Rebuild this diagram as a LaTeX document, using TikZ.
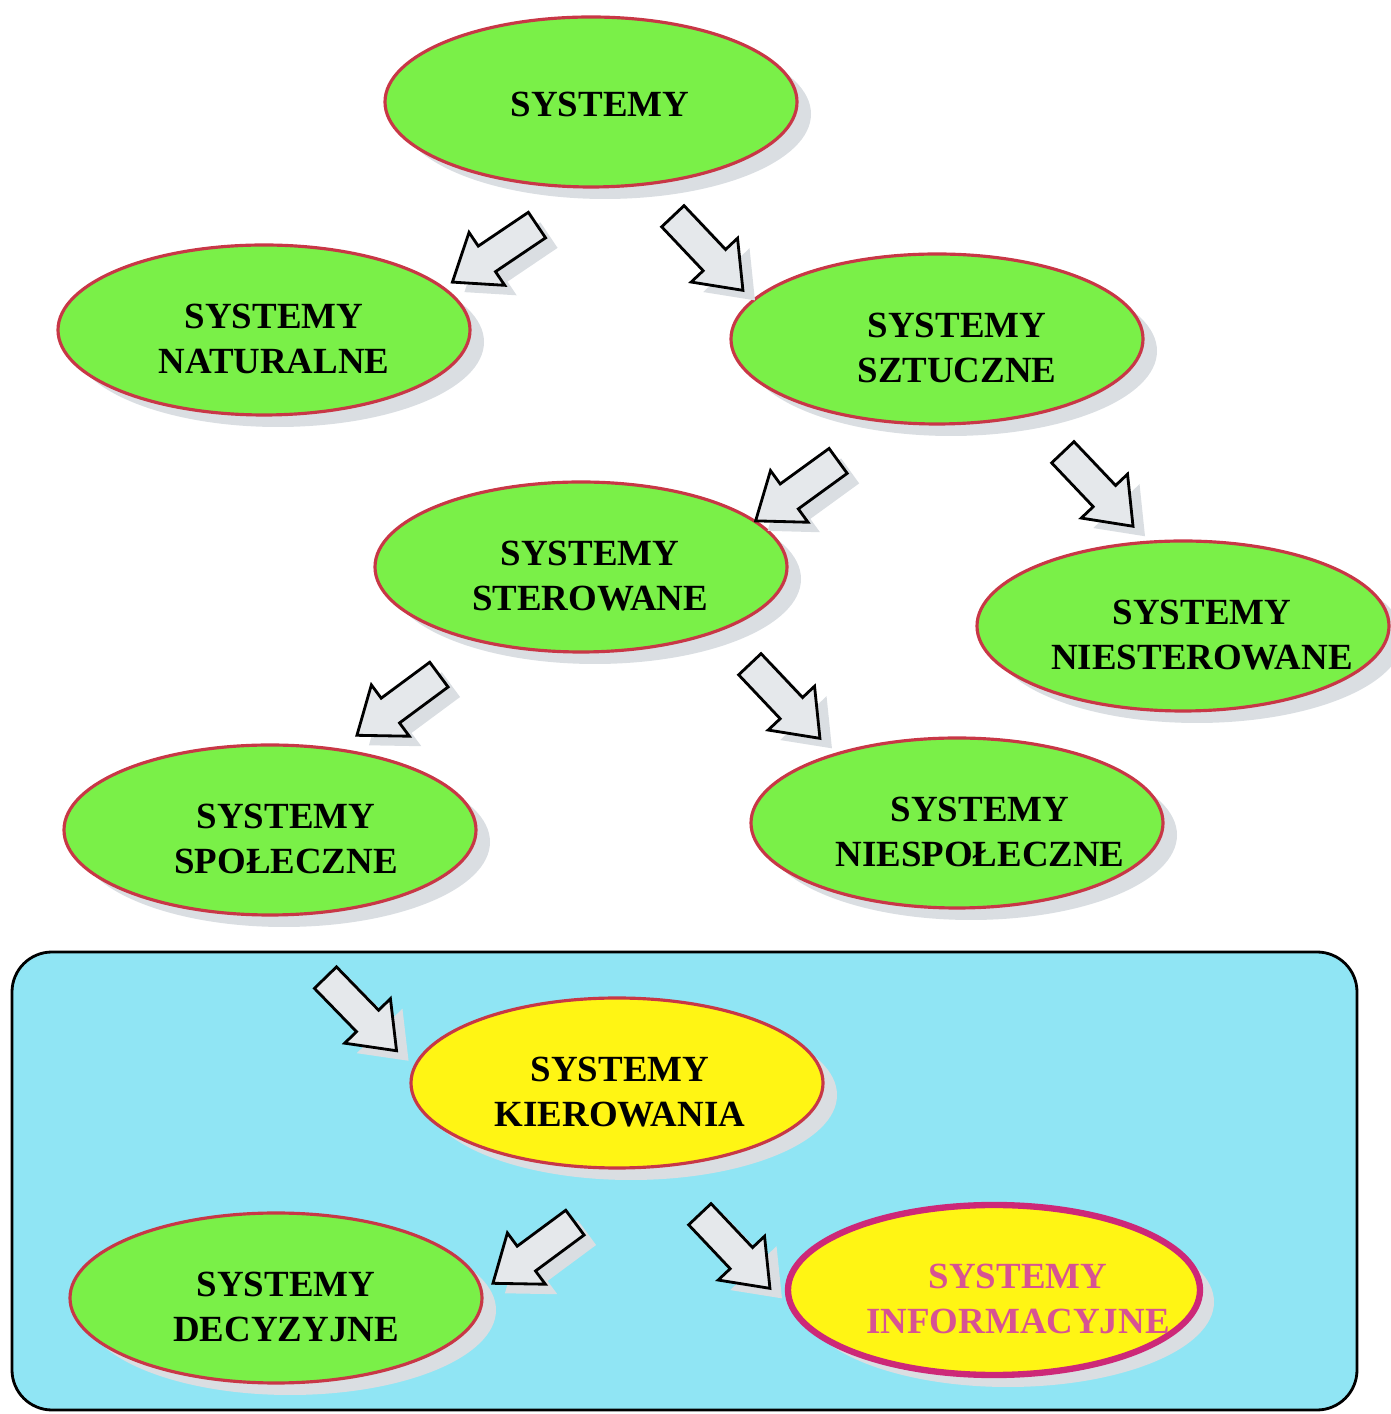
\documentclass[tikz,border=0pt]{standalone}
\usepackage{fontspec}
\setmainfont{Liberation Serif}
\usepackage{tikz}
\usetikzlibrary{positioning,shapes.geometric,shapes.arrows,shadows}

\definecolor{zielony}{RGB}{122,240,72}
\definecolor{ramka}{RGB}{200,55,70}
\definecolor{zolty}{RGB}{255,245,20}
\definecolor{niebieski}{RGB}{144,229,244}
\definecolor{fiolet}{RGB}{205,40,120}
\definecolor{cien}{RGB}{218,222,226}

\tikzset{
  sysnode/.style={ellipse,draw=ramka,line width=0.9pt,fill=zielony,
    minimum width=4.12cm,minimum height=1.7cm,inner sep=0pt,
    drop shadow={shadow xshift=0.14cm,shadow yshift=-0.12cm,fill=cien,opacity=1}},
  napis/.style={align=center,inner sep=0pt,yshift=-0.09cm,
    font=\fontsize{10.5}{12.8}\selectfont\bfseries},
  arr/.style={single arrow,draw=black,line width=0.8pt,fill=cien!70!white,
    inner sep=0.14cm,minimum height=1.02cm,single arrow head extend=0.165cm,
    single arrow tip angle=75,
    drop shadow={shadow xshift=0.12cm,shadow yshift=-0.1cm,fill=cien,opacity=1}}
}

\begin{document}
\begin{tikzpicture}
            \useasboundingbox (0,0) rectangle (13.9,14.14);
            % ramka dolna
            \draw[fill=niebieski,line width=0.8pt,rounded corners=0.4cm]
                (0.12,0.04) rectangle (13.57,4.62);
            % elipsy
            \node[sysnode,label={[napis,xshift=0.09cm,yshift=0.07cm]center:SYSTEMY}](sys) at (5.91,13.12){};
            \node[sysnode,label={[napis,xshift=0.10cm]center:SYSTEMY\\NATURALNE}](nat) at (2.64,10.84){};
            \node[sysnode,label={[napis,xshift=0.20cm]center:SYSTEMY\\SZTUCZNE}](szt) at (9.37,10.75){};
            \node[sysnode,label={[napis,xshift=0.09cm]center:SYSTEMY\\STEROWANE}](ster) at (5.81,8.47){};
            \node[sysnode,label={[napis,xshift=0.19cm]center:SYSTEMY\\NIESTEROWANE}](niester) at (11.83,7.88){};
            \node[sysnode,label={[napis,xshift=0.16cm]center:SYSTEMY\\SPOŁECZNE}](spol) at (2.70,5.84){};
            \node[sysnode,label={[napis,xshift=0.23cm]center:SYSTEMY\\NIESPOŁECZNE}](niespol) at (9.57,5.91){};
            \node[sysnode,fill=zolty,label={[napis,xshift=0.03cm]center:SYSTEMY\\KIEROWANIA}](kier) at (6.17,3.31){};
            \node[sysnode,label={[napis,xshift=0.10cm]center:SYSTEMY\\DECYZYJNE}](decyz) at (2.76,1.16){};
            \node[sysnode,fill=zolty,draw=fiolet,line width=1.8pt,
                  label={[napis,xshift=0.24cm,text=fiolet!80!white]center:SYSTEMY\\INFORMACYJNE}](inform) at (9.94,1.24){};
            % strzalki
            \node[arr,rotate=214](a1) at (5.03,11.66){};
            \node[arr,rotate=-46.6](a2) at (7.01,11.68){};
            \node[arr,rotate=216](a3) at (8.05,9.29){};
            \node[arr,rotate=-46.5](a4) at (10.91,9.32){};
            \node[arr,rotate=216.5](a5) at (4.06,7.15){};
            \node[arr,rotate=-46.6](a6) at (7.78,7.20){};
            \node[arr,rotate=-45.8](a7) at (3.54,4.07){};
            \node[arr,rotate=216.5](a8) at (5.42,1.67){};
            \node[arr,rotate=-46.6](a9) at (7.28,1.70){};
        \end{tikzpicture}
\end{document}
